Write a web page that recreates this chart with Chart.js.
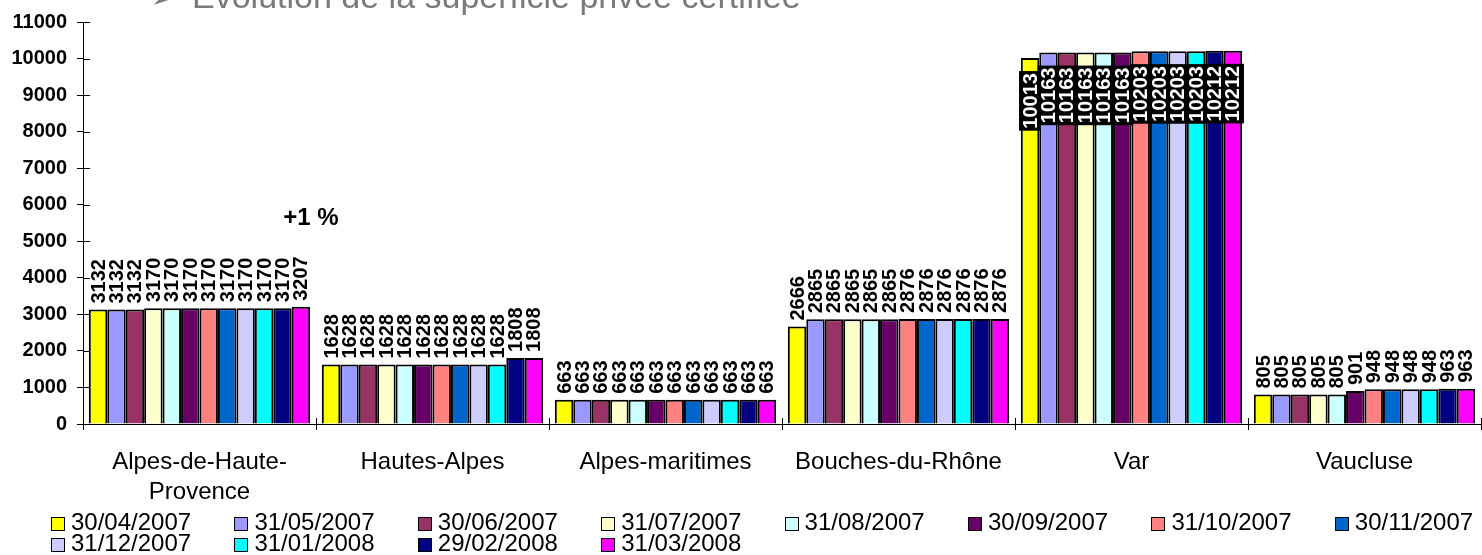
<!DOCTYPE html>
<html>
<head>
<meta charset="utf-8">
<script src="https://cdn.jsdelivr.net/npm/chart.js@4/dist/chart.umd.min.js"></script>
<style>
html,body{margin:0;padding:0;background:#fff;}
#wrap{position:relative;width:1482px;height:555px;}
</style>
</head>
<body>
<div id="wrap"><canvas id="c" width="1482" height="555"></canvas></div>
<script>
// ---- DATA ----
const categories = [['Alpes-de-Haute-', 'Provence'], 'Hautes-Alpes', 'Alpes-maritimes', 'Bouches-du-Rhône', 'Var', 'Vaucluse'];
const dates = ['30/04/2007','31/05/2007','30/06/2007','31/07/2007','31/08/2007','30/09/2007','31/10/2007','30/11/2007','31/12/2007','31/01/2008','29/02/2008','31/03/2008'];
const v_2007_04 = [3132, 1628, 663, 2666, 10013, 805];
const v_2007_05 = [3132, 1628, 663, 2865, 10163, 805];
const v_2007_06 = [3132, 1628, 663, 2865, 10163, 805];
const v_2007_07 = [3170, 1628, 663, 2865, 10163, 805];
const v_2007_08 = [3170, 1628, 663, 2865, 10163, 805];
const v_2007_09 = [3170, 1628, 663, 2865, 10163, 901];
const v_2007_10 = [3170, 1628, 663, 2876, 10203, 948];
const v_2007_11 = [3170, 1628, 663, 2876, 10203, 948];
const v_2007_12 = [3170, 1628, 663, 2876, 10203, 948];
const v_2008_01 = [3170, 1628, 663, 2876, 10203, 948];
const v_2008_02 = [3170, 1808, 663, 2876, 10212, 963];
const v_2008_03 = [3207, 1808, 663, 2876, 10212, 963];
const seriesValues = [v_2007_04, v_2007_05, v_2007_06, v_2007_07, v_2007_08, v_2007_09, v_2007_10, v_2007_11, v_2007_12, v_2008_01, v_2008_02, v_2008_03];
const yTickValues = [0,1000,2000,3000,4000,5000,6000,7000,8000,9000,10000,11000];
const titleText = 'Evolution de la superficie privée certifiée';
const annotationText = '+1 %';

// ---- STYLE ----
const colors = ['#FFFF00','#9999FF','#993366','#FFFFCC','#CCFFFF','#660066','#FF8080','#0066CC','#CCCCFF','#00FFFF','#000080','#FF00FF'];
const FONT = '"Liberation Sans", Arial, sans-serif';

const datasets = dates.map((d, i) => ({
  label: d,
  data: seriesValues[i],
  backgroundColor: colors[i],
  borderColor: '#000',
  borderWidth: 2,
  borderSkipped: 'start',
  categoryPercentage: 0.95,
  barPercentage: 1.0
}));

const extrasPlugin = {
  id: 'extras',
  afterDatasetsDraw(chart) {
    const ctx = chart.ctx;
    const area = chart.chartArea;
    ctx.save();
    ctx.font = 'bold 20px ' + FONT;
    chart.data.datasets.forEach((ds, di) => {
      const meta = chart.getDatasetMeta(di);
      meta.data.forEach((el, i) => {
        const txt = String(ds.data[i]);
        const w = ctx.measureText(txt).width;
        ctx.save();
        if (el.y - 5 - w < area.top) {
          const topY = el.y + 15;
          ctx.fillStyle = '#000';
          ctx.fillRect(el.x - 11, topY - 2, 22, w + 4);
          ctx.translate(el.x, topY + w);
          ctx.rotate(-Math.PI / 2);
          ctx.fillStyle = '#fff';
          ctx.textAlign = 'left';
          ctx.textBaseline = 'middle';
          ctx.fillText(txt, 0, 1);
        } else {
          ctx.translate(el.x, el.y - 6);
          ctx.rotate(-Math.PI / 2);
          ctx.fillStyle = '#000';
          ctx.textAlign = 'left';
          ctx.textBaseline = 'middle';
          ctx.fillText(txt, 0, 1);
        }
        ctx.restore();
      });
    });
    ctx.restore();
  },
  afterDraw(chart) {
    const ctx = chart.ctx;
    const area = chart.chartArea;
    const ys = chart.scales.y;
    ctx.save();
    ctx.strokeStyle = '#000';
    ctx.lineWidth = 1;
    ys.ticks.forEach(t => {
      const y = Math.round(ys.getPixelForValue(t.value)) + 0.5;
      ctx.beginPath(); ctx.moveTo(area.left, y); ctx.lineTo(area.left + 7, y); ctx.stroke();
    });
    for (let i = 0; i <= categories.length; i++) {
      const x = Math.round(area.left + (area.right - area.left) * i / categories.length) + 0.5;
      ctx.beginPath(); ctx.moveTo(x, area.bottom); ctx.lineTo(x, area.bottom - 6); ctx.stroke();
    }
    // title (cut off at top)
    ctx.fillStyle = '#7a7a7a';
    ctx.font = '34px ' + FONT;
    ctx.textBaseline = 'alphabetic';
    ctx.textAlign = 'left';
    ctx.fillText('\u27A2', 150, 8);
    ctx.fillText(titleText, 192, 8);
    // annotation
    ctx.fillStyle = '#000';
    ctx.font = 'bold 24px ' + FONT;
    ctx.textAlign = 'center';
    ctx.textBaseline = 'middle';
    ctx.fillText(annotationText, 311, 218);
    // legend
    ctx.font = '24px ' + FONT;
    ctx.textAlign = 'left';
    const colStep = 183.4;
    chart.data.datasets.forEach((ds, i) => {
      const col = i % 8, row = Math.floor(i / 8);
      const bx = 51 + col * colStep;
      const cy = row === 0 ? 524 : 545;
      ctx.fillStyle = ds.backgroundColor;
      ctx.fillRect(Math.round(bx) + 0.5, cy - 6.5, 13, 13);
      ctx.strokeStyle = '#000';
      ctx.lineWidth = 1;
      ctx.strokeRect(Math.round(bx) + 0.5, cy - 6.5, 13, 13);
      ctx.fillStyle = '#000';
      ctx.fillText(ds.label, bx + 20, cy - 1);
    });
    ctx.restore();
  }
};

new Chart(document.getElementById('c'), {
  type: 'bar',
  data: { labels: categories, datasets },
  options: {
    responsive: false,
    animation: false,
    devicePixelRatio: 1,
    layout: { padding: { top: 22, right: 1, left: 0, bottom: 0 } },
    plugins: { legend: { display: false }, tooltip: { enabled: false }, title: { display: false } },
    scales: {
      x: {
        grid: { display: true, drawOnChartArea: false, drawTicks: true, tickLength: 6, color: '#000', offset: true },
        border: { display: true, color: '#000', width: 1 },
        ticks: { color: '#000', font: { family: FONT, size: 24, lineHeight: 1.25 }, padding: 17, maxRotation: 0, autoSkip: false },
        afterFit(s) { s.height = 131; }
      },
      y: {
        min: 0, max: 11000,
        afterBuildTicks(s) { s.ticks = yTickValues.map(v => ({ value: v })); },
        grid: { display: true, drawOnChartArea: false, drawTicks: true, tickLength: 6, color: '#000' },
        border: { display: true, color: '#000', width: 1 },
        ticks: { color: '#000', font: { family: FONT, size: 20, weight: 'bold' }, padding: 10, callback: (v) => String(v) },
        afterFit(s) { s.width = 83; }
      }
    }
  },
  plugins: [extrasPlugin]
});
</script>
</body>
</html>
